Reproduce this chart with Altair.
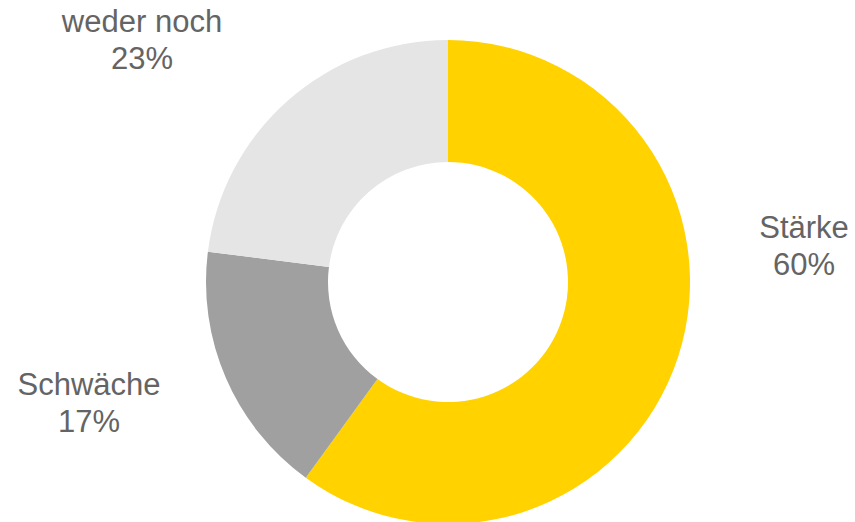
import altair as alt
import pandas as pd

# Share of answers per category
categories = ["Stärke", "Schwäche", "weder noch"]
shares = [60, 17, 23]
colors = ["#FFD200", "#A0A0A0", "#E5E5E5"]

df = pd.DataFrame({
    "kategorie": categories,
    "anteil": shares,
    "reihenfolge": list(range(len(categories))),
})
df["label"] = [f"{c}\n{v}%" for c, v in zip(categories, shares)]

cx, cy = 448, 282

donut = alt.Chart(df).mark_arc(outerRadius=242, innerRadius=120, stroke=None).encode(
    theta=alt.Theta("anteil:Q", stack=True),
    order=alt.Order("reihenfolge:Q"),
    color=alt.Color("kategorie:N",
                    scale=alt.Scale(domain=categories, range=colors),
                    legend=None),
    x=alt.value(cx),
    y=alt.value(cy),
)

# Label placement beside each segment
label_pos = {"Stärke": (804, 238), "Schwäche": (89, 395), "weder noch": (142, 32)}

labels = []
for cat in categories:
    lx, ly = label_pos[cat]
    labels.append(
        alt.Chart(df).transform_filter(alt.datum.kategorie == cat).mark_text(
            font="Liberation Sans", fontSize=31, color="#646464",
            align="center", baseline="alphabetic", lineBreak="\n", lineHeight=37,
        ).encode(text="label:N", x=alt.value(lx), y=alt.value(ly))
    )

chart = alt.layer(donut, *labels).properties(
    width=855, height=522,
    autosize=alt.AutoSizeParams(type="none"),
    padding=0,
).configure_view(stroke=None)

chart.save("out.html", embed_options={"renderer": "svg", "actions": False})
